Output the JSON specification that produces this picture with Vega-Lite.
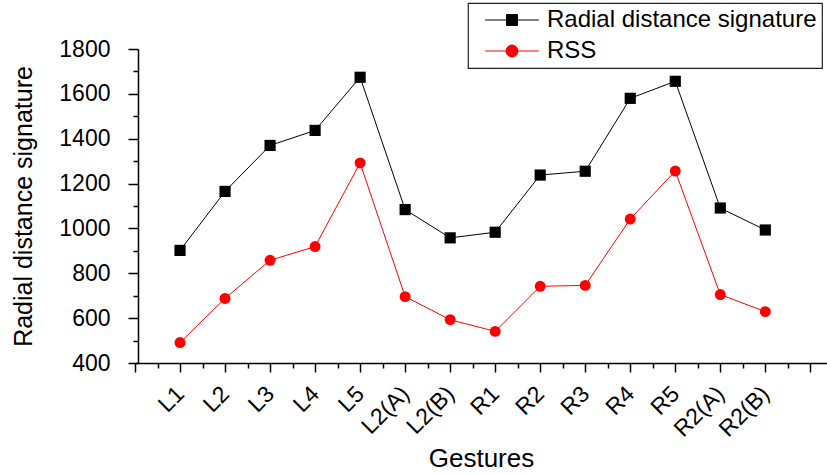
{
  "$schema": "https://vega.github.io/schema/vega-lite/v6.json",
  "autosize": "none",
  "width": 692,
  "height": 314,
  "padding": {"left": 135, "top": 49, "right": 0, "bottom": 111},
  "background": "white",
  "config": {
    "font": "Liberation Sans",
    "view": {"stroke": null},
    "axis": {"grid": false, "domainColor": "black", "tickColor": "black", "domainWidth": 1.5, "tickWidth": 1.5, "labelColor": "black", "titleColor": "black", "labelFont": "Liberation Sans", "titleFont": "Liberation Sans", "titleFontWeight": "normal", "labelOverlap": false}
  },
  "data": {
    "values": [
      {"x": 1, "gesture": "L1", "series": "Radial distance signature", "value": 902},
      {"x": 2, "gesture": "L2", "series": "Radial distance signature", "value": 1165},
      {"x": 3, "gesture": "L3", "series": "Radial distance signature", "value": 1370},
      {"x": 4, "gesture": "L4", "series": "Radial distance signature", "value": 1437},
      {"x": 5, "gesture": "L5", "series": "Radial distance signature", "value": 1674},
      {"x": 6, "gesture": "L2(A)", "series": "Radial distance signature", "value": 1084},
      {"x": 7, "gesture": "L2(B)", "series": "Radial distance signature", "value": 958},
      {"x": 8, "gesture": "R1", "series": "Radial distance signature", "value": 983},
      {"x": 9, "gesture": "R2", "series": "Radial distance signature", "value": 1238},
      {"x": 10, "gesture": "R3", "series": "Radial distance signature", "value": 1255},
      {"x": 11, "gesture": "R4", "series": "Radial distance signature", "value": 1580},
      {"x": 12, "gesture": "R5", "series": "Radial distance signature", "value": 1656},
      {"x": 13, "gesture": "R2(A)", "series": "Radial distance signature", "value": 1091},
      {"x": 14, "gesture": "R2(B)", "series": "Radial distance signature", "value": 993},
      {"x": 1, "gesture": "L1", "series": "RSS", "value": 491},
      {"x": 2, "gesture": "L2", "series": "RSS", "value": 688},
      {"x": 3, "gesture": "L3", "series": "RSS", "value": 858},
      {"x": 4, "gesture": "L4", "series": "RSS", "value": 919},
      {"x": 5, "gesture": "L5", "series": "RSS", "value": 1292},
      {"x": 6, "gesture": "L2(A)", "series": "RSS", "value": 696},
      {"x": 7, "gesture": "L2(B)", "series": "RSS", "value": 593},
      {"x": 8, "gesture": "R1", "series": "RSS", "value": 541},
      {"x": 9, "gesture": "R2", "series": "RSS", "value": 742},
      {"x": 10, "gesture": "R3", "series": "RSS", "value": 746},
      {"x": 11, "gesture": "R4", "series": "RSS", "value": 1042},
      {"x": 12, "gesture": "R5", "series": "RSS", "value": 1256},
      {"x": 13, "gesture": "R2(A)", "series": "RSS", "value": 705},
      {"x": 14, "gesture": "R2(B)", "series": "RSS", "value": 629}
    ]
  },
  "resolve": {"axis": {"x": "independent", "y": "independent"}},
  "layer": [
    {
      "mark": {"type": "line", "strokeWidth": 1},
      "encoding": {
        "x": {
          "field": "x", "type": "quantitative",
          "scale": {"domain": [0, 15.37], "nice": false, "zero": false},
          "axis": {
            "orient": "bottom",
            "values": [0, 1, 2, 3, 4, 5, 6, 7, 8, 9, 10, 11, 12, 13, 14, 15],
            "labelExpr": "['', 'L1', 'L2', 'L3', 'L4', 'L5', 'L2(A)', 'L2(B)', 'R1', 'R2', 'R3', 'R4', 'R5', 'R2(A)', 'R2(B)', ''][datum.value]",
            "labelAngle": -45,
            "labelAlign": "right",
            "labelBaseline": "middle",
            "labelFontSize": 23,
            "labelPadding": 18,
            "labelDx": -3,
            "tickSize": 9,
            "title": "Gestures",
            "titleFontSize": 26,
            "titleBaseline": "alphabetic",
            "titleY": 103
          }
        },
        "y": {
          "field": "value", "type": "quantitative",
          "scale": {"domain": [400, 1800], "nice": false, "zero": false},
          "axis": {
            "orient": "left",
            "values": [400, 600, 800, 1000, 1200, 1400, 1600, 1800],
            "format": "d",
            "labelFontSize": 23,
            "labelPadding": 18,
            "tickSize": 10,
            "offset": -3,
            "title": "Radial distance signature",
            "titleFontSize": 25,
            "titleBaseline": "middle",
            "titleX": -115
          }
        },
        "color": {
          "field": "series", "type": "nominal",
          "scale": {"domain": ["Radial distance signature", "RSS"], "range": ["black", "#ff0000"]},
          "legend": {
            "orient": "none",
            "legendX": 333,
            "legendY": -46,
            "title": null,
            "padding": 5,
            "strokeColor": "#222",
            "fillColor": "white",
            "labelFontSize": 24,
            "labelColor": "black",
            "labelFont": "Liberation Sans",
            "symbolSize": 300,
            "symbolOffset": 27,
            "labelOffset": 23,
            "rowPadding": 7,
            "symbolStrokeWidth": 1,
            "labelLimit": 400,
            "encode": {
              "legend": {"update": {"strokeWidth": {"value": 1.2}}},
              "symbols": {
                "update": {
                  "shape": {"signal": "datum.value === 'RSS' ? 'M-3.1,0H3.1M0.69,0A0.69,0.69,0,1,1,-0.69,0A0.69,0.69,0,1,1,0.69,0Z' : 'M-3.1,0H3.1M-0.63,-0.63H0.63V0.63H-0.63Z'"},
                  "fill": {"signal": "datum.value === 'RSS' ? '#ff0000' : 'black'"},
                  "stroke": {"signal": "datum.value === 'RSS' ? '#ff0000' : 'black'"},
                  "strokeWidth": {"value": 1},
                  "opacity": {"value": 1}
                }
              }
            }
          }
        }
      }
    },
    {
      "transform": [{"filter": "datum.series === 'Radial distance signature'"}],
      "mark": {"type": "point", "filled": true, "opacity": 1, "size": 125, "shape": "square", "color": "black"},
      "encoding": {
        "x": {
          "field": "x", "type": "quantitative",
          "axis": {
            "orient": "bottom",
            "values": [0.5, 1.5, 2.5, 3.5, 4.5, 5.5, 6.5, 7.5, 8.5, 9.5, 10.5, 11.5, 12.5, 13.5, 14.5],
            "labels": false, "domain": false, "tickSize": 5, "title": null
          }
        },
        "y": {
          "field": "value", "type": "quantitative",
          "axis": {
            "orient": "left",
            "values": [500, 700, 900, 1100, 1300, 1500, 1700],
            "labels": false, "domain": false, "tickSize": 5, "title": null, "offset": -3
          }
        }
      }
    },
    {
      "transform": [{"filter": "datum.series === 'RSS'"}],
      "mark": {"type": "point", "filled": true, "opacity": 1, "size": 120, "shape": "circle", "color": "#ff0000"},
      "encoding": {
        "x": {"field": "x", "type": "quantitative", "axis": null},
        "y": {"field": "value", "type": "quantitative", "axis": null}
      }
    }
  ]
}
